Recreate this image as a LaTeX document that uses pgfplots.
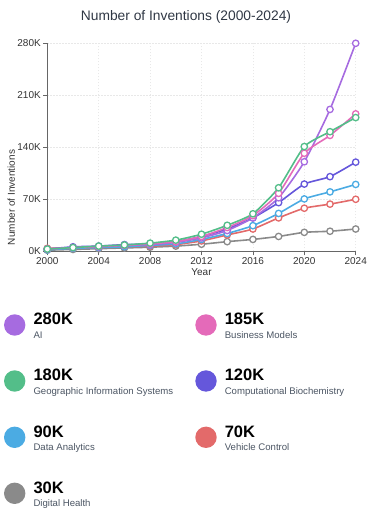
\documentclass[border=0pt]{standalone}
\usepackage{pgfplots}
\pgfplotsset{compat=1.18}
\usepackage{fontspec}
\setmainfont{Liberation Sans}
\definecolor{cAI}{HTML}{A66BE0}
\definecolor{cBM}{HTML}{E46AB9}
\definecolor{cGIS}{HTML}{53BE89}
\definecolor{cCB}{HTML}{6557DB}
\definecolor{cDA}{HTML}{4BABE3}
\definecolor{cVC}{HTML}{E36A6A}
\definecolor{cDH}{HTML}{8A8A8A}
\definecolor{titlec}{HTML}{2F3744}
\definecolor{labc}{HTML}{4B5563}
\definecolor{tickc}{HTML}{333333}
\pgfplotsset{
  ser/.style={line width=1.6pt, smooth, tension=0.35, color=#1,
    mark=*, mark size=3.2pt, mark options={fill=white, draw=#1, line width=1.3pt}},
}
\begin{document}
\begin{tikzpicture}
\path[use as bounding box] (0,0) rectangle (375pt,513pt);
\begin{axis}[
  at={(47.3pt,261.7pt)}, anchor=south west,
  scale only axis, width=308.4pt, height=208pt,
  xmin=2000, xmax=2024, ymin=0, ymax=280000,
  xtick={2000,2004,...,2024},
  ytick={0,70000,140000,210000,280000},
  yticklabels={0K,70K,140K,210K,280K},
  scaled y ticks=false,
  /pgf/number format/assume math mode=true,
  xticklabel={\pgfmathprintnumber[1000 sep={}]{\tick}},
  tick label style={font=\fontsize{10}{10}\selectfont, text=tickc},
  axis x line*=bottom, axis y line*=left,
  axis line style={draw=black!60, line width=0.7pt},
  tick style={draw=black!60, line width=0.7pt},
  tick align=outside, major tick length=4pt,
  xtick pos=bottom, ytick pos=left,
  grid=major,
  major grid style={draw=black!9, dash pattern=on 1.5pt off 1.5pt, line width=0.5pt},
  clip=false,
  xticklabel style={yshift=1pt},
  yticklabel style={xshift=1pt},
]
\addplot[ser=cDH] coordinates {(2000,1500) (2002,2500) (2004,3500) (2006,4500) (2008,5500) (2010,7000) (2012,9500) (2014,13000) (2016,16000) (2018,20000) (2020,25500) (2022,27000) (2024,30000)};
\addplot[ser=cVC] coordinates {(2000,4000) (2002,4500) (2004,5000) (2006,6000) (2008,7000) (2010,9000) (2012,14000) (2014,22000) (2016,30000) (2018,45000) (2020,58000) (2022,63500) (2024,70000)};
\addplot[ser=cDA] coordinates {(2000,2000) (2002,4000) (2004,5000) (2006,6000) (2008,8000) (2010,10000) (2012,16000) (2014,24000) (2016,34500) (2018,51000) (2020,70500) (2022,80000) (2024,90000)};
\addplot[ser=cCB] coordinates {(2000,3000) (2002,6000) (2004,7000) (2006,9000) (2008,10000) (2010,13000) (2012,20000) (2014,30000) (2016,45000) (2018,65500) (2020,90500) (2022,100500) (2024,120000)};
\addplot[ser=cAI] coordinates {(2000,3000) (2002,5000) (2004,6000) (2006,8000) (2008,9000) (2010,12000) (2012,18000) (2014,28000) (2016,45000) (2018,72000) (2020,120500) (2022,191000) (2024,280000)};
\addplot[ser=cBM] coordinates {(2000,3000) (2002,5000) (2004,6500) (2006,8000) (2008,10000) (2010,13000) (2012,20000) (2014,32000) (2016,48000) (2018,78000) (2020,132000) (2022,156000) (2024,185000)};
\addplot[ser=cGIS] coordinates {(2000,3000) (2002,5000) (2004,7000) (2006,8500) (2008,11000) (2010,15000) (2012,23000) (2014,35000) (2016,50500) (2018,85500) (2020,141000) (2022,161000) (2024,180000)};
\end{axis}
% title and axis labels
\node[anchor=base, text=titlec, font=\fontsize{13.8}{13.8}\selectfont] at (186pt,492.3pt) {Number of Inventions (2000-2024)};
\node[anchor=base, text=tickc, font=\fontsize{10}{10}\selectfont] at (201.5pt,237.5pt) {Year};
\node[rotate=90, anchor=base, text=tickc, font=\fontsize{10}{10}\selectfont] at (14.8pt,315.5pt) {Number of Inventions};
% legend
\newcommand{\legitem}[5]{%
  \fill[#3] (#1,#2) circle (10.7pt);
  \node[anchor=base west, inner sep=0pt, font=\bfseries\fontsize{16.5}{16.5}\selectfont] at ([xshift=18.6pt]#1,#2) {#4};
  \node[anchor=base west, inner sep=0pt, text=labc, font=\fontsize{9.6}{9.6}\selectfont] at ([xshift=18.6pt,yshift=-13.7pt]#1,#2) {#5};
}
\legitem{14.7pt}{188pt}{cAI}{280K}{AI}
\legitem{206pt}{188pt}{cBM}{185K}{Business Models}
\legitem{14.7pt}{132pt}{cGIS}{180K}{Geographic Information Systems}
\legitem{206pt}{132pt}{cCB}{120K}{Computational Biochemistry}
\legitem{14.7pt}{75.7pt}{cDA}{90K}{Data Analytics}
\legitem{206pt}{75.7pt}{cVC}{70K}{Vehicle Control}
\legitem{14.7pt}{19.7pt}{cDH}{30K}{Digital Health}
\end{tikzpicture}
\end{document}
